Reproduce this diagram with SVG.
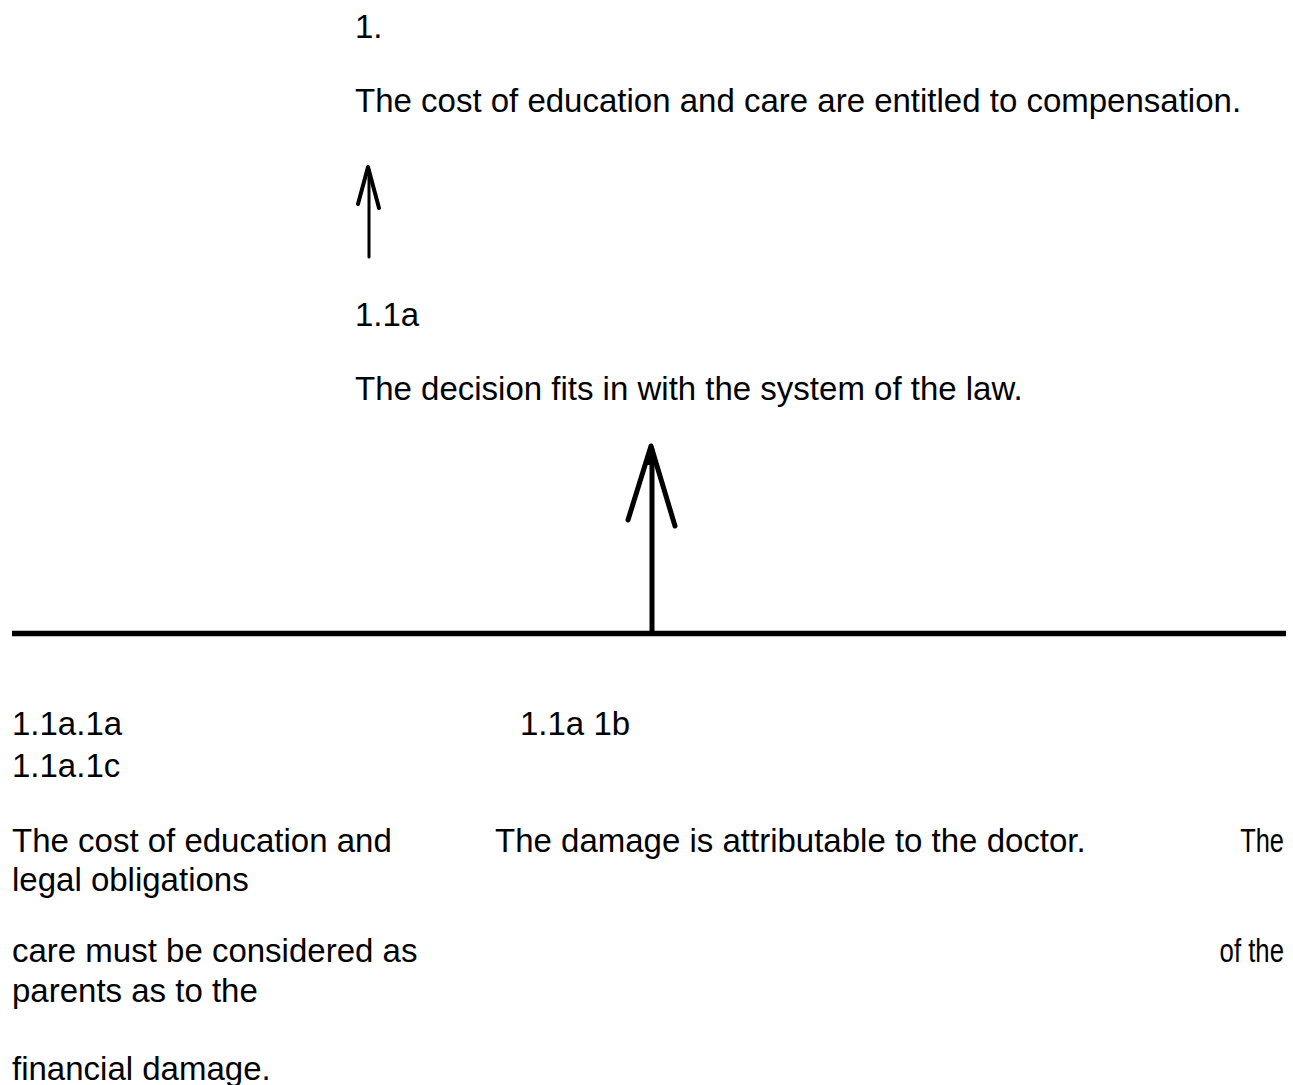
<svg xmlns="http://www.w3.org/2000/svg" width="1293" height="1085" viewBox="0 0 1293 1085">
<style>
text{font-family:"Liberation Sans",Arial,sans-serif;font-size:33px;fill:#000}
.ln{stroke:#000;fill:none;stroke-linecap:round;stroke-linejoin:round}
.r{text-anchor:end}
</style>
<rect width="1293" height="1085" fill="#fff"/>
<g id="node-1">
<text x="355" y="38">1.</text>
<text x="355" y="112">The cost of education and care are entitled to compensation.</text>
</g>
<g id="node-1-1a">
<text x="355" y="326">1.1a</text>
<text x="355" y="400">The decision fits in with the system of the law.</text>
</g>
<g id="node-1-1a-1a">
<text x="12" y="735">1.1a.1a</text>
<text x="12" y="777">1.1a.1c</text>
<text x="12" y="852">The cost of education and</text>
<text x="12" y="891">legal obligations</text>
<text x="12" y="962">care must be considered as</text>
<text x="12" y="1002">parents as to the</text>
<text x="12" y="1080">financial damage.</text>
</g>
<g id="node-1-1a-1b">
<text x="520" y="735">1.1a 1b</text>
<text x="495" y="852">The damage is attributable to the doctor.</text>
</g>
<g id="node-1-1a-1c">
<text class="r" transform="translate(1284,852) scale(0.77,1)">The</text>
<text class="r" transform="translate(1284,962) scale(0.78,1)">of the</text>
</g>
<g id="connectors">
<line class="ln" x1="369" y1="257" x2="369" y2="170" stroke-width="3"/>
<polyline class="ln" points="358,204 368,167 379,208" stroke-width="4"/>
<polygon points="365,175 368,165 372,177" fill="#000"/>
<line x1="12" y1="633.5" x2="1286" y2="633.5" stroke="#000" stroke-width="5.5"/>
<line class="ln" x1="652" y1="633" x2="652" y2="450" stroke-width="5"/>
<polyline class="ln" points="628,520 651,446 675,526" stroke-width="5"/>
<polygon points="646,465 651,444 657,465" fill="#000"/>
</g>
</svg>
